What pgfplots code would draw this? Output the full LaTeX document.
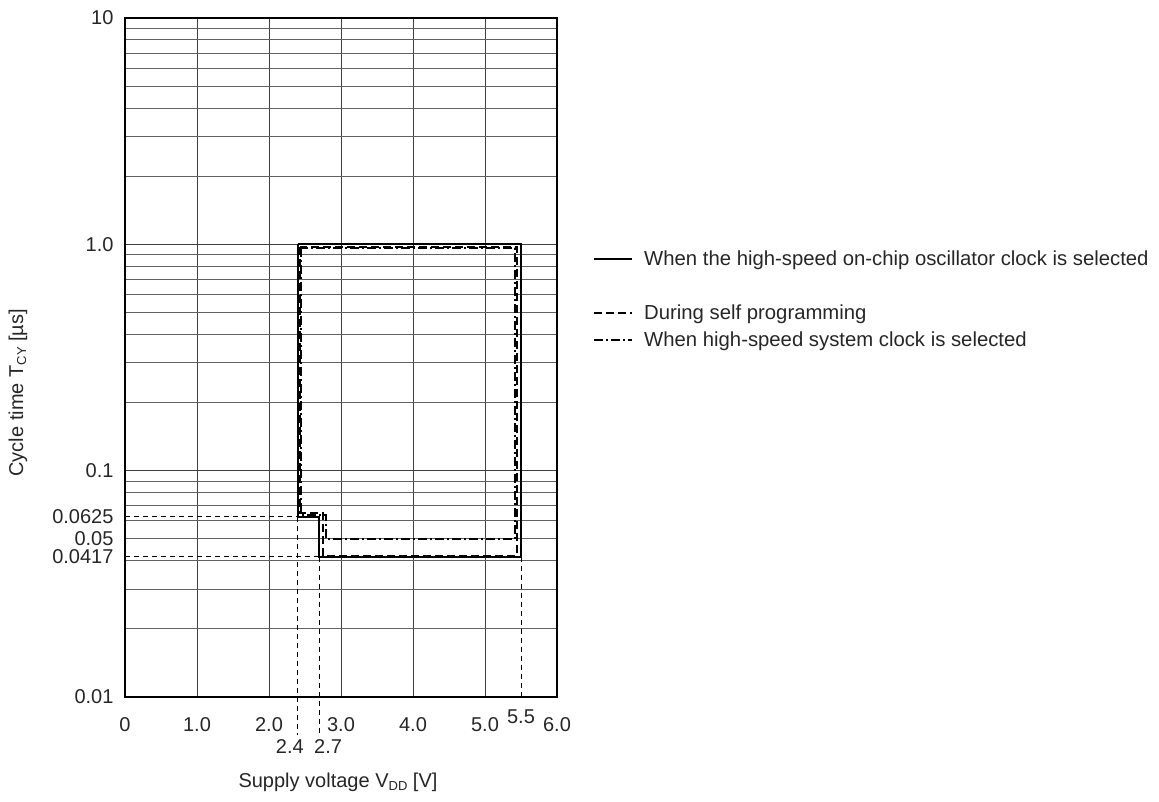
\documentclass[border=0pt]{standalone}
\usepackage{fontspec}
\setmainfont{Liberation Sans}
\usepackage{pgfplots}
\pgfplotsset{compat=1.18}
\begin{document}
\begin{tikzpicture}
\useasboundingbox (0,0) rectangle (1159pt,801pt);
\begin{axis}[
  at={(125pt,104pt)}, anchor=south west,
  scale only axis, width=432pt, height=679pt,
  ymode=log, xmin=0, xmax=6, ymin=0.01, ymax=10,
  clip=false,
  axis line style={line width=2.4pt, black},
  /pgf/number format/assume math mode=true,
  xtick={0,1,2,3,4,5,6},
  xticklabels={0,1.0,2.0,3.0,4.0,5.0,6.0},
  ytick={0.01,0.1,1,10},
  yticklabels={0.01,0.1,1.0,10},
  extra y ticks={0.0417,0.05,0.0625},
  extra y tick labels={0.0417,0.05,0.0625},
  extra y tick style={grid=none},
  major tick length=0pt, minor tick length=0pt,
  grid=both,
  major grid style={black!75, line width=0.9pt},
  minor grid style={black!62, line width=0.9pt},
  every tick label/.append style={font=\fontsize{20}{22}\selectfont, text=black!85},
  xticklabel style={yshift=-17pt},
  yticklabel style={xshift=-8pt},
  xlabel={Supply voltage V\raisebox{-0.3ex}{\fontsize{13}{13}\selectfont DD} [V]},
  ylabel={Cycle time T\raisebox{-0.3ex}{\fontsize{13}{13}\selectfont CY} [µs]},
  label style={font=\fontsize{20}{22}\selectfont, text=black!85},
  xlabel style={at={(axis description cs:0.493,-0.125)}, anchor=center},
  ylabel style={at={(axis description cs:-0.248,0.448)}, anchor=center},
  legend style={at={(axis description cs:1.083,0.660)}, anchor=north west, draw=none, fill=none,
    inner sep=0pt, font=\fontsize{20.3}{22}\selectfont, text=black!85, row sep=7pt,
    legend cell align=left,
    /tikz/every odd column/.append style={column sep=9pt}},
  legend image code/.code={\draw[#1] (0pt,0pt) -- (38pt,0pt);},
]
\addplot[black, line width=2.2pt] coordinates {
  (2.4,1.0) (2.4,0.0625) (2.7,0.0625) (2.7,0.0417) (5.5,0.0417) (5.5,1.0) (2.4,1.0)};
\addlegendentry{When the high-speed on-chip oscillator clock is selected}
\addlegendimage{empty legend}
\addlegendentry{\phantom{Dg}}
\addplot[black, line width=2pt, dash pattern=on 8pt off 4pt] coordinates {
  (2.43,0.97) (2.43,0.065) (2.75,0.065) (2.75,0.042) (5.44,0.042) (5.44,0.97) (2.43,0.97)};
\addlegendentry{During self programming}
\addplot[black, line width=2pt, dash pattern=on 9pt off 3pt on 2pt off 3pt] coordinates {
  (2.45,0.965) (2.45,0.064) (2.79,0.064) (2.79,0.05) (5.42,0.05) (5.42,0.965) (2.45,0.965)};
\addlegendentry{When high-speed system clock is selected}
% guide lines
\addplot[forget plot, black, line width=0.9pt, dash pattern=on 5pt off 4pt] coordinates {
  (0,0.0625) (2.4,0.0625)};
\addplot[forget plot, black, line width=0.9pt, dash pattern=on 5pt off 4pt] coordinates {
  (2.4,0.0625) (2.4,0.0068)};
\addplot[forget plot, black, line width=0.9pt, dash pattern=on 5pt off 4pt] coordinates {
  (0,0.0417) (2.7,0.0417)};
\addplot[forget plot, black, line width=0.9pt, dash pattern=on 5pt off 4pt] coordinates {
  (2.7,0.0417) (2.7,0.0068)};
\addplot[forget plot, black, line width=0.9pt, dash pattern=on 5pt off 4pt] coordinates {
  (5.5,0.0417) (5.5,0.01)};
\node[font=\fontsize{20}{22}\selectfont, text=black!85] at (axis cs:2.29,0.01) [yshift=-50pt] {2.4};
\node[font=\fontsize{20}{22}\selectfont, text=black!85] at (axis cs:2.82,0.01) [yshift=-50pt] {2.7};
\node[font=\fontsize{20}{22}\selectfont, text=black!85] at (axis cs:5.5,0.01) [yshift=-20pt] {5.5};
\end{axis}
\end{tikzpicture}
\end{document}
